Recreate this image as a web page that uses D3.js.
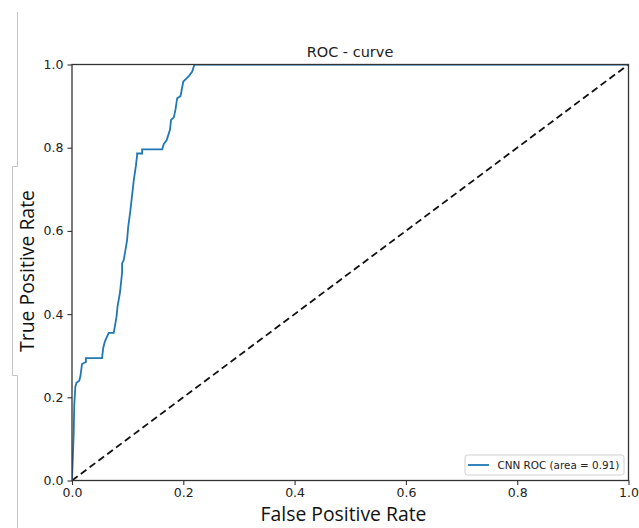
<!DOCTYPE html>
<html>
<head>
<meta charset="utf-8">
<script src="https://cdn.jsdelivr.net/npm/d3@7"></script>
<style>
  body { margin: 0; background: #fff; }
  svg { display: block; }
</style>
</head>
<body>
<svg id="chart" width="639" height="528"></svg>
<script>
// ROC points (false positive rate, true positive rate)
const fpr = [0.000, 0.003, 0.004, 0.006, 0.008, 0.013, 0.015, 0.018, 0.025, 0.025,
             0.054, 0.056, 0.059, 0.063, 0.066, 0.075, 0.077, 0.080, 0.082, 0.086,
             0.088, 0.090, 0.090, 0.093, 0.096, 0.099, 0.101, 0.105, 0.109, 0.111,
             0.115, 0.117, 0.117, 0.126, 0.126, 0.162, 0.165, 0.170, 0.172, 0.176,
             0.178, 0.183, 0.186, 0.189, 0.195, 0.200, 0.204, 0.210, 0.216, 0.220,
             1.000];
const tpr = [0.000, 0.110, 0.180, 0.225, 0.235, 0.240, 0.250, 0.280, 0.285, 0.294,
             0.294, 0.318, 0.334, 0.346, 0.355, 0.355, 0.370, 0.394, 0.420, 0.450,
             0.474, 0.500, 0.522, 0.530, 0.554, 0.578, 0.610, 0.650, 0.698, 0.722,
             0.758, 0.782, 0.786, 0.786, 0.796, 0.796, 0.809, 0.818, 0.826, 0.843,
             0.867, 0.873, 0.892, 0.919, 0.924, 0.959, 0.964, 0.972, 0.983, 1.000,
             1.000];
const chance = [[0, 0], [1, 1]];
const ticks = [0, 0.2, 0.4, 0.6, 0.8, 1.0];
const title = "ROC - curve";
const legendLabel = "CNN ROC (area = 0.91)";

const svg = d3.select("#chart");
const x = d3.scaleLinear().domain([0, 1]).range([72, 628.5]);
const y = d3.scaleLinear().domain([0, 1]).range([480.5, 64.5]);

// grey bracket lines left over at the left edge of the picture
const grey = svg.append("g").attr("stroke", "#c4c4c4").attr("fill", "none");
grey.append("path").attr("d", "M17.5,12V166.5H12.5V375.5H17.5V528");

const tickFont = "'DejaVu Sans', sans-serif";

// axes
const xAxis = svg.append("g")
    .attr("transform", `translate(0,${y(0)})`)
    .call(d3.axisBottom(x).tickValues(ticks).tickFormat(d3.format(".1f")).tickSize(4.5).tickPadding(3));
const yAxis = svg.append("g")
    .attr("transform", `translate(${x(0)},0)`)
    .call(d3.axisLeft(y).tickValues(ticks).tickFormat(d3.format(".1f")).tickSize(4.5).tickPadding(4));
[xAxis, yAxis].forEach(a => {
  a.select(".domain").remove();
  a.selectAll("line").attr("stroke", "#333").attr("stroke-width", 1.1);
  a.selectAll("text").attr("fill", "#222").style("font-family", tickFont).style("font-size", "12.5px");
});

// clip lines to the plot area, like matplotlib does
svg.append("clipPath").attr("id", "plot")
  .append("rect")
    .attr("x", x(0)).attr("y", y(1))
    .attr("width", x(1) - x(0)).attr("height", y(0) - y(1));
const plot = svg.append("g").attr("clip-path", "url(#plot)");

// chance diagonal
plot.append("path")
    .datum(chance)
    .attr("d", d3.line().x(d => x(d[0])).y(d => y(d[1])))
    .attr("fill", "none")
    .attr("stroke", "#111")
    .attr("stroke-width", 1.8)
    .attr("stroke-dasharray", "7,4");

// ROC curve
const pts = fpr.map((f, i) => [f, tpr[i]]);
plot.append("path")
    .datum(pts)
    .attr("d", d3.line().x(d => x(d[0])).y(d => y(d[1])))
    .attr("fill", "none")
    .attr("stroke", "#1f77b4")
    .attr("stroke-width", 1.8)
    .attr("stroke-linejoin", "miter");

// frame on top of the lines
svg.append("rect")
    .attr("x", x(0)).attr("y", y(1))
    .attr("width", x(1) - x(0)).attr("height", y(0) - y(1))
    .attr("fill", "none").attr("stroke", "#333").attr("stroke-width", 1.3);

// title
svg.append("text")
    .attr("x", 350).attr("y", 57)
    .attr("text-anchor", "middle")
    .style("font-family", tickFont).style("font-size", "14.5px").attr("fill", "#222")
    .text(title);

// axis labels (fitted to the widths in the picture)
function fitText(sel, target) {
  const w = sel.node().getComputedTextLength();
  const fs = parseFloat(sel.style("font-size"));
  sel.style("font-size", (fs * target / w) + "px");
}
const xl = svg.append("text")
    .attr("x", 343.5).attr("y", 521)
    .attr("text-anchor", "middle")
    .style("font-family", "'Open Sans', sans-serif").style("font-size", "17px").attr("fill", "#111")
    .text("False Positive Rate");
fitText(xl, 166);
const yl = svg.append("text")
    .attr("transform", "translate(34,271) rotate(-90)")
    .attr("text-anchor", "middle")
    .style("font-family", "'Open Sans', sans-serif").style("font-size", "17px").attr("fill", "#111")
    .text("True Positive Rate");
fitText(yl, 162);

// legend
const lg = svg.append("g").attr("transform", "translate(465,455)");
lg.append("rect")
    .attr("width", 159).attr("height", 20).attr("rx", 2.5)
    .attr("fill", "#fff").attr("fill-opacity", 0.8)
    .attr("stroke", "#d0d0d0").attr("stroke-width", 1);
lg.append("line")
    .attr("x1", 3).attr("x2", 24).attr("y1", 10).attr("y2", 10)
    .attr("stroke", "#1f77b4").attr("stroke-width", 1.8);
lg.append("text")
    .attr("x", 32.5).attr("y", 14)
    .style("font-family", tickFont).style("font-size", "10.4px").attr("fill", "#222")
    .text(legendLabel);
</script>
</body>
</html>
